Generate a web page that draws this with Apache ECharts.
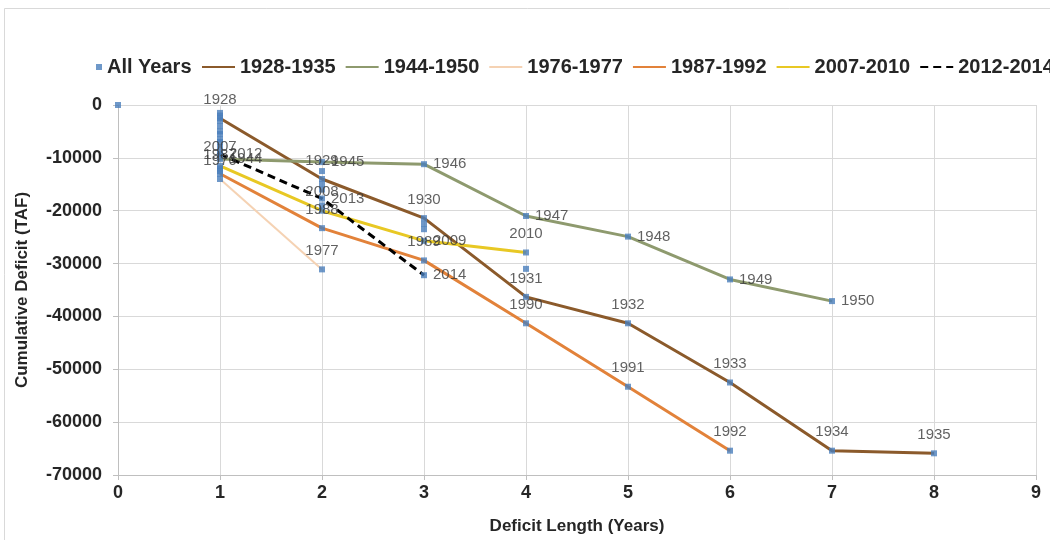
<!DOCTYPE html>
<html>
<head>
<meta charset="utf-8">
<script src="https://cdn.jsdelivr.net/npm/echarts@6/dist/echarts.min.js"></script>
<style>html,body{margin:0;padding:0;background:#fff}#c{width:1050px;height:540px}</style>
</head>
<body>
<div id="c"></div>
<script>
// ---- data ----
const xTicks = [0,1,2,3,4,5,6,7,8,9];
const yTicks = [0,-10000,-20000,-30000,-40000,-50000,-60000,-70000];

const years1928 = [1928,1929,1930,1931,1932,1933,1934,1935];
const vals1928  = [-2500,-14000,-21400,-36300,-41300,-52500,-65400,-65900];

const years1944 = [1944,1945,1946,1947,1948,1949,1950];
const vals1944  = [-10200,-10800,-11200,-21000,-24900,-33000,-37100];

const years1976 = [1976,1977];
const vals1976  = [-14000,-31100];

const years1987 = [1987,1988,1989,1990,1991,1992];
const vals1987  = [-13000,-23300,-29400,-41300,-53300,-65400];

const years2007 = [2007,2008,2009,2010];
const vals2007  = [-11500,-20000,-25700,-27900];

const years2012 = [2012,2013,2014];
const vals2012  = [-9300,-17700,-32200];

// other (unlabelled) years in the "All Years" scatter
const otherLen = [0,1,1,1,1,1,1,1,1,1,1,1,1,2,2,2,2,3,3,4];
const otherVal = [0,-1500,-2000,-3000,-4000,-5000,-5500,-6500,-7000,-8000,-9000,-12000,-12500,-12500,-15000,-16000,-19000,-22500,-23500,-31000];

// ---- styles ----
const labelPos = {1944:'right',1945:'right',1946:'right',1947:'right',1948:'right',1949:'right',1950:'right',
                  2012:'right',2013:'right',2009:'right',2014:'right'};
const FONT = '"Liberation Sans", Arial, sans-serif';

const lineDefs = [
  {name:'1928-1935', years:years1928, vals:vals1928, color:'#8B5A2B', width:3, type:'solid'},
  {name:'1944-1950', years:years1944, vals:vals1944, color:'#8E9A6E', width:3, type:'solid'},
  {name:'1976-1977', years:years1976, vals:vals1976, color:'#F5D2B3', width:2, type:'solid'},
  {name:'1987-1992', years:years1987, vals:vals1987, color:'#E2823A', width:3, type:'solid'},
  {name:'2007-2010', years:years2007, vals:vals2007, color:'#E8C824', width:3, type:'solid'},
  {name:'2012-2014', years:years2012, vals:vals2012, color:'#000000', width:3, type:[8,5]}
];

const series = lineDefs.map(d => ({
  name: d.name, type: 'line', symbol: 'none', z: 2,
  data: d.vals.map((v,i) => [i+1, v]),
  lineStyle: {color: d.color, width: d.width, type: d.type},
  itemStyle: {color: d.color},
  emphasis: {disabled: true}
}));

const scatterData = [];
otherLen.forEach((l,i) => scatterData.push({value:[l, otherVal[i]]}));
lineDefs.forEach(d => d.years.forEach((yr,i) => {
  scatterData.push({
    value: [i+1, d.vals[i]],
    label: {show: true, formatter: String(yr), position: labelPos[yr] || 'top', distance: labelPos[yr] ? 6 : 8}
  });
}));

series.push({
  name: 'All Years', type: 'scatter', symbol: 'rect', symbolSize: 6, z: 5,
  itemStyle: {color: '#4A7EBB'},
  label: {show: false, color: '#3a3a3a', fontSize: 15, fontFamily: FONT},
  data: scatterData,
  emphasis: {disabled: true}
});

const chart = echarts.init(document.getElementById('c'), null, {renderer: 'canvas'});
chart.setOption({
  animation: false,
  backgroundColor: '#ffffff',
  graphic: [{type:'rect', shape:{x:4.5, y:8.5, width:1060, height:560}, style:{fill:'none', stroke:'#d9d9d9', lineWidth:1}, silent:true, z:-10}],
  legend: [
    {data:['All Years'], left:91, top:52, itemWidth:6, itemHeight:6, icon:'rect',
     textStyle:{fontFamily:FONT, fontSize:20, fontWeight:'bold', color:'#262626'}},
    {data:lineDefs.map(d=>d.name), left:196, top:52, width:1000, itemWidth:33, itemHeight:14, itemGap:9,
     itemStyle:{opacity:0},
     textStyle:{fontFamily:FONT, fontSize:20, fontWeight:'bold', color:'#262626'}}
  ],
  grid: {left:118, right:14, top:105, bottom:59, containLabel:false},
  xAxis: {
    type:'value', min:xTicks[0], max:xTicks[xTicks.length-1], interval:1,
    name:'Deficit Length (Years)', nameLocation:'middle', nameGap:43,
    nameTextStyle:{fontFamily:FONT, fontSize:17, fontWeight:'bold', color:'#262626'},
    axisLine:{onZero:false, lineStyle:{color:'#bfbfbf'}},
    axisTick:{show:true, length:5, lineStyle:{color:'#bfbfbf'}},
    axisLabel:{fontFamily:FONT, fontSize:18, fontWeight:'bold', color:'#262626', margin:9},
    splitLine:{show:true, lineStyle:{color:'#d9d9d9'}}
  },
  yAxis: {
    type:'value', min:yTicks[yTicks.length-1], max:yTicks[0], interval:10000,
    name:'Cumulative Deficit (TAF)', nameLocation:'middle', nameGap:87, nameRotate:90,
    nameTextStyle:{fontFamily:FONT, fontSize:17, fontWeight:'bold', color:'#262626'},
    axisLine:{show:true, onZero:false, lineStyle:{color:'#bfbfbf'}},
    axisTick:{show:true, length:5, lineStyle:{color:'#bfbfbf'}},
    axisLabel:{fontFamily:FONT, fontSize:18, fontWeight:'bold', color:'#262626', margin:16,
               formatter: v => String(v)},
    splitLine:{show:true, lineStyle:{color:'#d9d9d9'}}
  },
  series: series
});
</script>
</body>
</html>
